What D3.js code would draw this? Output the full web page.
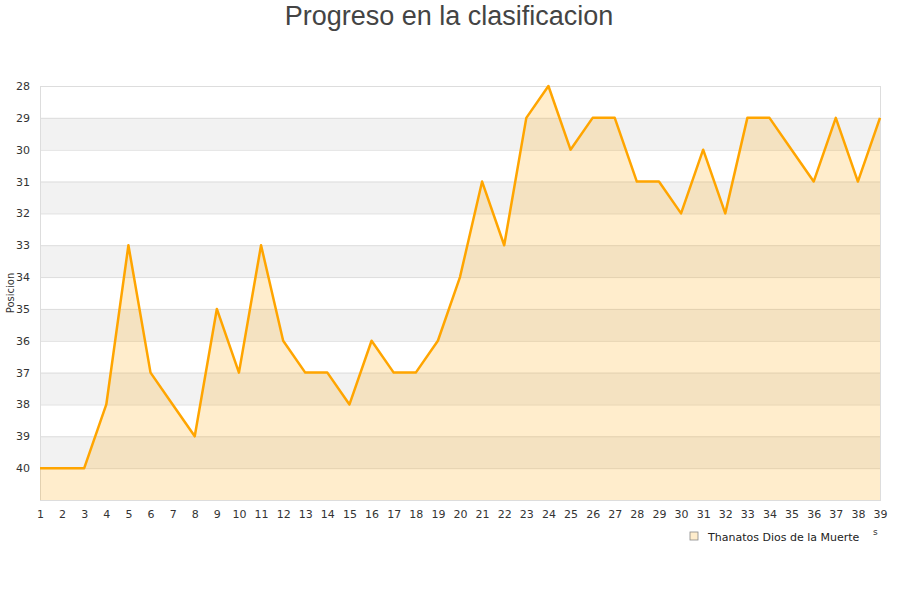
<!DOCTYPE html>
<meta charset="utf-8">
<script src="https://d3js.org/d3.v7.min.js"></script>
<style>
  body { margin: 0; background: #fff; }
  text { font-family: "DejaVu Sans", sans-serif; }
</style>
<div id="chart"></div>
<script>
  // data
  var jornadas = d3.range(1, 40);
  var posiciones = [40, 40, 40, 38, 33, 37, 38, 39, 35, 37,
                    33, 36, 37, 37, 38, 36, 37, 37, 36, 34,
                    31, 33, 29, 28, 30, 29, 29, 31, 31, 32,
                    30, 32, 29, 29, 30, 31, 29, 31, 29];
  var yTicks = d3.range(28, 41);
  var seriesName = "Thanatos Dios de la Muerte";
  var title = "Progreso en la clasificacion";

  var margin = { top: 86, right: 20, bottom: 100, left: 40 },
    width = 900 - margin.left - margin.right,
    height = 600 - margin.top - margin.bottom;

  var root = d3.select("#chart").append("svg")
    .attr("width", 900)
    .attr("height", 600);

  root.append("text")
    .attr("x", 449)
    .attr("y", 25)
    .attr("text-anchor", "middle")
    .style("font-family", "'Liberation Sans', Arial, sans-serif")
    .style("font-size", "27px")
    .style("fill", "#444")
    .text(title);

  var svg = root.append("g")
    .attr("transform", "translate(" + margin.left + "," + margin.top + ")");

  var x = d3.scaleLinear().domain([1, 39]).range([0, width]);
  var y = d3.scaleLinear().domain([28, 41]).range([0, height]);

  // alternating bands
  svg.selectAll(".band")
    .data(d3.range(28, 41))
    .enter().append("rect")
    .attr("x", 0)
    .attr("y", function (d) { return y(d); })
    .attr("width", width)
    .attr("height", function (d) { return y(d + 1) - y(d); })
    .style("fill", function (d) { return d % 2 === 1 ? "#f2f2f2" : "#fff"; });

  // grid lines
  svg.selectAll(".grid")
    .data(yTicks)
    .enter().append("line")
    .attr("x1", 0).attr("x2", width)
    .attr("y1", function (d) { return y(d) + 0.5; })
    .attr("y2", function (d) { return y(d) + 0.5; })
    .style("stroke", "#ddd");

  svg.append("rect")
    .attr("x", 0.5).attr("y", 0.5)
    .attr("width", width).attr("height", height)
    .style("fill", "none")
    .style("stroke", "#ddd");

  var data = jornadas.map(function (j, i) { return { j: j, p: posiciones[i] }; });

  svg.append("path")
    .datum(data)
    .attr("d", d3.area()
      .x(function (d) { return x(d.j); })
      .y0(y(41))
      .y1(function (d) { return y(d.p); }))
    .style("fill", "rgba(255,165,0,0.2)");

  svg.append("path")
    .datum(data)
    .attr("d", d3.line()
      .x(function (d) { return x(d.j); })
      .y(function (d) { return y(d.p); }))
    .style("fill", "none")
    .style("stroke", "#ffa500")
    .style("stroke-width", 2.5)
    .style("stroke-linejoin", "round");

  // axes
  var yAxis = svg.append("g")
    .call(d3.axisLeft(y).tickValues(yTicks).tickSize(0).tickPadding(10).tickFormat(d3.format("d")));
  yAxis.select(".domain").remove();
  yAxis.selectAll("text").style("font-size", "11px").style("fill", "#333");

  var xAxis = svg.append("g")
    .attr("transform", "translate(0," + height + ")")
    .call(d3.axisBottom(x).tickValues(jornadas).tickSize(0).tickPadding(10).tickFormat(d3.format("d")));
  xAxis.select(".domain").remove();
  xAxis.selectAll("text").style("font-size", "11px").style("fill", "#333");

  root.append("text")
    .attr("transform", "translate(14,293) rotate(-90)")
    .attr("text-anchor", "middle")
    .style("font-size", "10px")
    .style("fill", "#333")
    .text("Posicion");

  root.append("text")
    .attr("x", 873).attr("y", 535)
    .style("font-size", "9px")
    .style("fill", "#333")
    .text("s");

  // legend
  var legend = root.append("g").attr("transform", "translate(690,532)");
  legend.append("rect")
    .attr("width", 8).attr("height", 8)
    .style("fill", "rgba(255,165,0,0.2)")
    .style("stroke", "#888")
    .style("stroke-width", 0.8);
  legend.append("text")
    .attr("x", 18).attr("y", 9)
    .style("font-size", "11px")
    .style("fill", "#222")
    .text(seriesName);
</script>
